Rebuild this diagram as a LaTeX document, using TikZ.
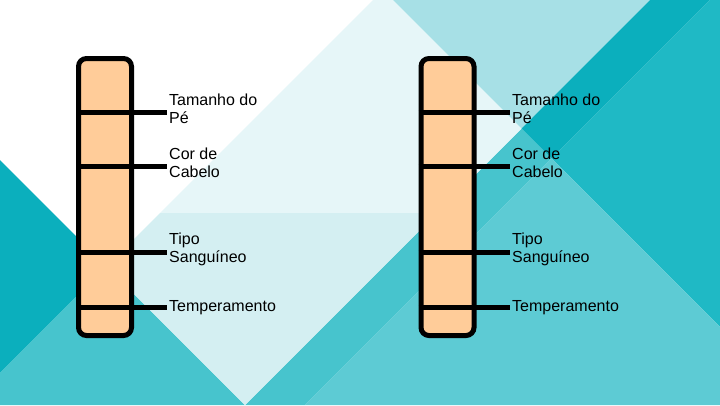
\documentclass[tikz,border=0pt]{standalone}
\usepackage{fontspec}
\setmainfont{Liberation Sans}

\definecolor{bgPale}{HTML}{E6F6F8}
\definecolor{bgPaleB}{HTML}{D4EFF2}
\definecolor{bgLight}{HTML}{A7E0E6}
\definecolor{bgDark}{HTML}{0BAFBD}
\definecolor{bgTeal}{HTML}{1FB9C5}
\definecolor{bgMid}{HTML}{47C4CD}
\definecolor{bgMidLight}{HTML}{5DCBD4}
\definecolor{chromoFill}{HTML}{FFCC99}

\begin{document}
\begin{tikzpicture}[x=1pt, y=-1pt,
        % Chromosome bar styling
        chromo/.style={draw=black, fill=chromoFill, line width=5pt, rounded corners=8pt, minimum width=53pt, minimum height=277pt},
        % Gene band lines
        band/.style={draw=black, line width=5pt},
        % Trait labels
        trait/.style={font=\fontsize{16}{18}\selectfont, align=left, anchor=north west, inner sep=0pt}
    ]

    % Background facets
    \fill[white] (0,0) rectangle (720,405);
    \useasboundingbox (0,0) rectangle (720,405);
    \fill[bgDark] (0,160) -- (106.5,266.5) -- (0,373) -- cycle;
    \fill[bgMid] (0,373) -- (106.5,266.5) -- (245,405) -- (0,405) -- cycle;
    \fill[bgMid] (245,405) -- (521.5,128.5) -- (551.5,158.5) -- (305,405) -- cycle;
    \fill[bgPale] (373,0) -- (393,0) -- (521.5,128.5) -- (437,213) -- (160,213) -- cycle;
    \fill[bgPaleB] (160,213) -- (437,213) -- (245,405) -- (106.5,266.5) -- cycle;
    \fill[bgLight] (393,0) -- (650,0) -- (521.5,128.5) -- cycle;
    \fill[bgDark] (650,0) -- (710,0) -- (551.5,158.5) -- (521.5,128.5) -- cycle;
    \fill[bgTeal] (710,0) -- (720,0) -- (720,327) -- (551.5,158.5) -- cycle;
    \fill[bgMidLight] (551.5,158.5) -- (720,327) -- (720,405) -- (305,405) -- cycle;

    % LEFT CHROMOSOME
    \node[chromo] (cromoA) at (105,197) {};

    % band ends
    \coordinate (peA) at (167,112);
    \coordinate (caboA) at (167,166);
    \coordinate (sangueA) at (167,252);
    \coordinate (tempA) at (167,307);

    \draw[band] (cromoA.west |- peA) -- (peA);
    \draw[band] (cromoA.west |- caboA) -- (caboA);
    \draw[band] (cromoA.west |- sangueA) -- (sangueA);
    \draw[band] (cromoA.west |- tempA) -- (tempA);

    \node[trait] (peAtxt) at ([xshift=2pt, yshift=18.5pt]peA) {Tamanho do\\Pé};
    \node[trait] (caboAtxt) at ([xshift=2pt, yshift=18.5pt]caboA) {Cor de\\Cabelo};
    \node[trait] (sangueAtxt) at ([xshift=2pt, yshift=19pt]sangueA) {Tipo\\Sanguíneo};
    \node[trait] (tempAtxt) at ([xshift=2pt, yshift=6.5pt]tempA) {Temperamento};

    % RIGHT CHROMOSOME
    \node[chromo] (cromoB) at (447.5,197) {};

    % band ends
    \coordinate (peB) at (510,112);
    \coordinate (caboB) at (510,166);
    \coordinate (sangueB) at (510,252);
    \coordinate (tempB) at (510,307);

    \draw[band] (cromoB.west |- peB) -- (peB);
    \draw[band] (cromoB.west |- caboB) -- (caboB);
    \draw[band] (cromoB.west |- sangueB) -- (sangueB);
    \draw[band] (cromoB.west |- tempB) -- (tempB);

    \node[trait] (peBtxt) at ([xshift=2pt, yshift=18.5pt]peB) {Tamanho do\\Pé};
    \node[trait] (caboBtxt) at ([xshift=2pt, yshift=18.5pt]caboB) {Cor de\\Cabelo};
    \node[trait] (sangueBtxt) at ([xshift=2pt, yshift=19pt]sangueB) {Tipo\\Sanguíneo};
    \node[trait] (tempBtxt) at ([xshift=2pt, yshift=6.5pt]tempB) {Temperamento};

\end{tikzpicture}
\end{document}
